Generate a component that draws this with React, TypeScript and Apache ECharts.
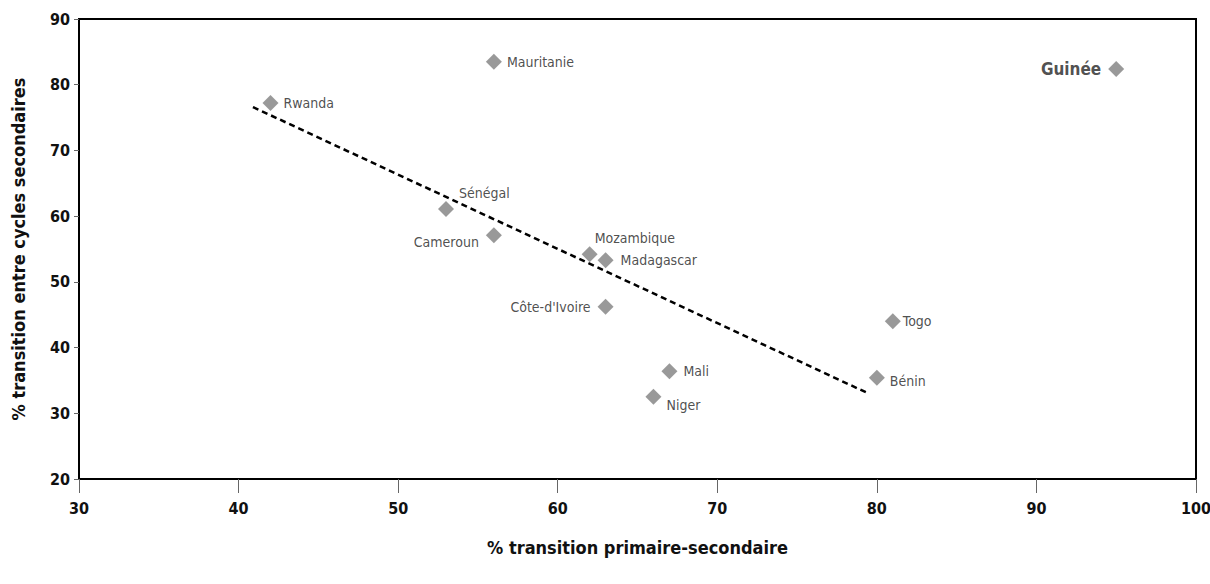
import React, { useEffect, useRef } from "react";
import * as echarts from "echarts";

const countries = ["Rwanda", "Mauritanie", "Guinée", "Sénégal", "Cameroun", "Mozambique", "Madagascar", "Côte-d'Ivoire", "Togo", "Mali", "Niger", "Bénin"];
const primSec = [42, 56, 95, 53, 56, 62, 63, 63, 81, 67, 66, 80];
const cycles = [77.2, 83.5, 82.4, 61.1, 57.1, 54.2, 53.3, 46.2, 44.0, 36.4, 32.5, 35.4];
const trendX = [40.9, 79.4];
const trendY = [76.6, 33.1];
const xTicks = [30, 40, 50, 60, 70, 80, 90, 100];
const yTicks = [20, 30, 40, 50, 60, 70, 80, 90];

const FONT = "'Liberation Sans Narrow', 'DejaVu Sans Condensed', 'Roboto Condensed', sans-serif";

const labelStyle: Record<string, any> = {
  "Rwanda": { position: "right" },
  "Mauritanie": { position: "right" },
  "Guinée": { position: "left", offset: [-2, 0], fontWeight: "bold", fontSize: 17, color: "#222" },
  "Sénégal": { position: "right", offset: [0, -16] },
  "Cameroun": { position: "left", offset: [-2, 7] },
  "Mozambique": { position: "right", offset: [-8, -16] },
  "Madagascar": { position: "right", offset: [2, 0] },
  "Côte-d'Ivoire": { position: "left", offset: [-2, 0] },
  "Togo": { position: "right", offset: [-3, 0] },
  "Mali": { position: "right", offset: [1, 0] },
  "Niger": { position: "right", offset: [0, 8] },
  "Bénin": { position: "right", offset: [0, 3] },
};

export default function App() {
  const ref = useRef<HTMLDivElement>(null);
  useEffect(() => {
    if (!ref.current) return;
    const chart = echarts.init(ref.current, undefined, { renderer: "svg" });
    const points = countries.map((n, i) => ({
      name: n,
      value: [primSec[i], cycles[i]],
      label: { show: true, formatter: n, ...labelStyle[n] },
    }));
    chart.setOption({
      animation: false,
      backgroundColor: "#fff",
      grid: {
        left: 79, right: 14, top: 19, bottom: 105,
        outerBoundsMode: "none", containLabel: false,
        show: true, borderColor: "#000", borderWidth: 2, backgroundColor: "transparent",
      },
      xAxis: {
        type: "value",
        min: xTicks[0],
        max: xTicks[xTicks.length - 1],
        interval: 10,
        name: "% transition primaire-secondaire",
        nameLocation: "middle",
        nameGap: 59,
        nameTextStyle: { fontFamily: FONT, fontWeight: "bold", fontSize: 18, color: "#111" },
        axisLine: { show: true, lineStyle: { color: "#000", width: 2 } },
        axisTick: { show: true, length: 14, lineStyle: { color: "#666", width: 1 } },
        axisLabel: { margin: 21, fontFamily: FONT, fontWeight: "bold", fontSize: 16, color: "#111" },
        splitLine: { show: false },
      },
      yAxis: {
        type: "value",
        min: yTicks[0],
        max: yTicks[yTicks.length - 1],
        interval: 10,
        name: "% transition entre cycles secondaires",
        nameLocation: "middle",
        nameGap: 52,
        nameTextStyle: { fontFamily: FONT, fontWeight: "bold", fontSize: 18, color: "#111" },
        axisLine: { show: true, lineStyle: { color: "#000", width: 2 } },
        axisTick: { show: true, length: 5, lineStyle: { color: "#666", width: 1 } },
        axisLabel: { margin: 9, fontFamily: FONT, fontWeight: "bold", fontSize: 16, color: "#111" },
        splitLine: { show: false },
      },
      series: [
        {
          type: "line",
          data: trendX.map((x, i) => [x, trendY[i]]),
          symbol: "none",
          lineStyle: { color: "#000", width: 2.5, type: [6, 4] },
          silent: true,
          z: 1,
        },
        {
          type: "scatter",
          symbol: "diamond",
          symbolSize: 16,
          itemStyle: { color: "#808080" },
          label: { fontFamily: FONT, fontSize: 14, color: "#222", distance: 5 },
          data: points,
          z: 2,
        },
      ],
    });
    return () => chart.dispose();
  }, []);
  return <div ref={ref} style={{ position: "absolute", left: 0, top: 0, width: 1210, height: 584 }} />;
}
